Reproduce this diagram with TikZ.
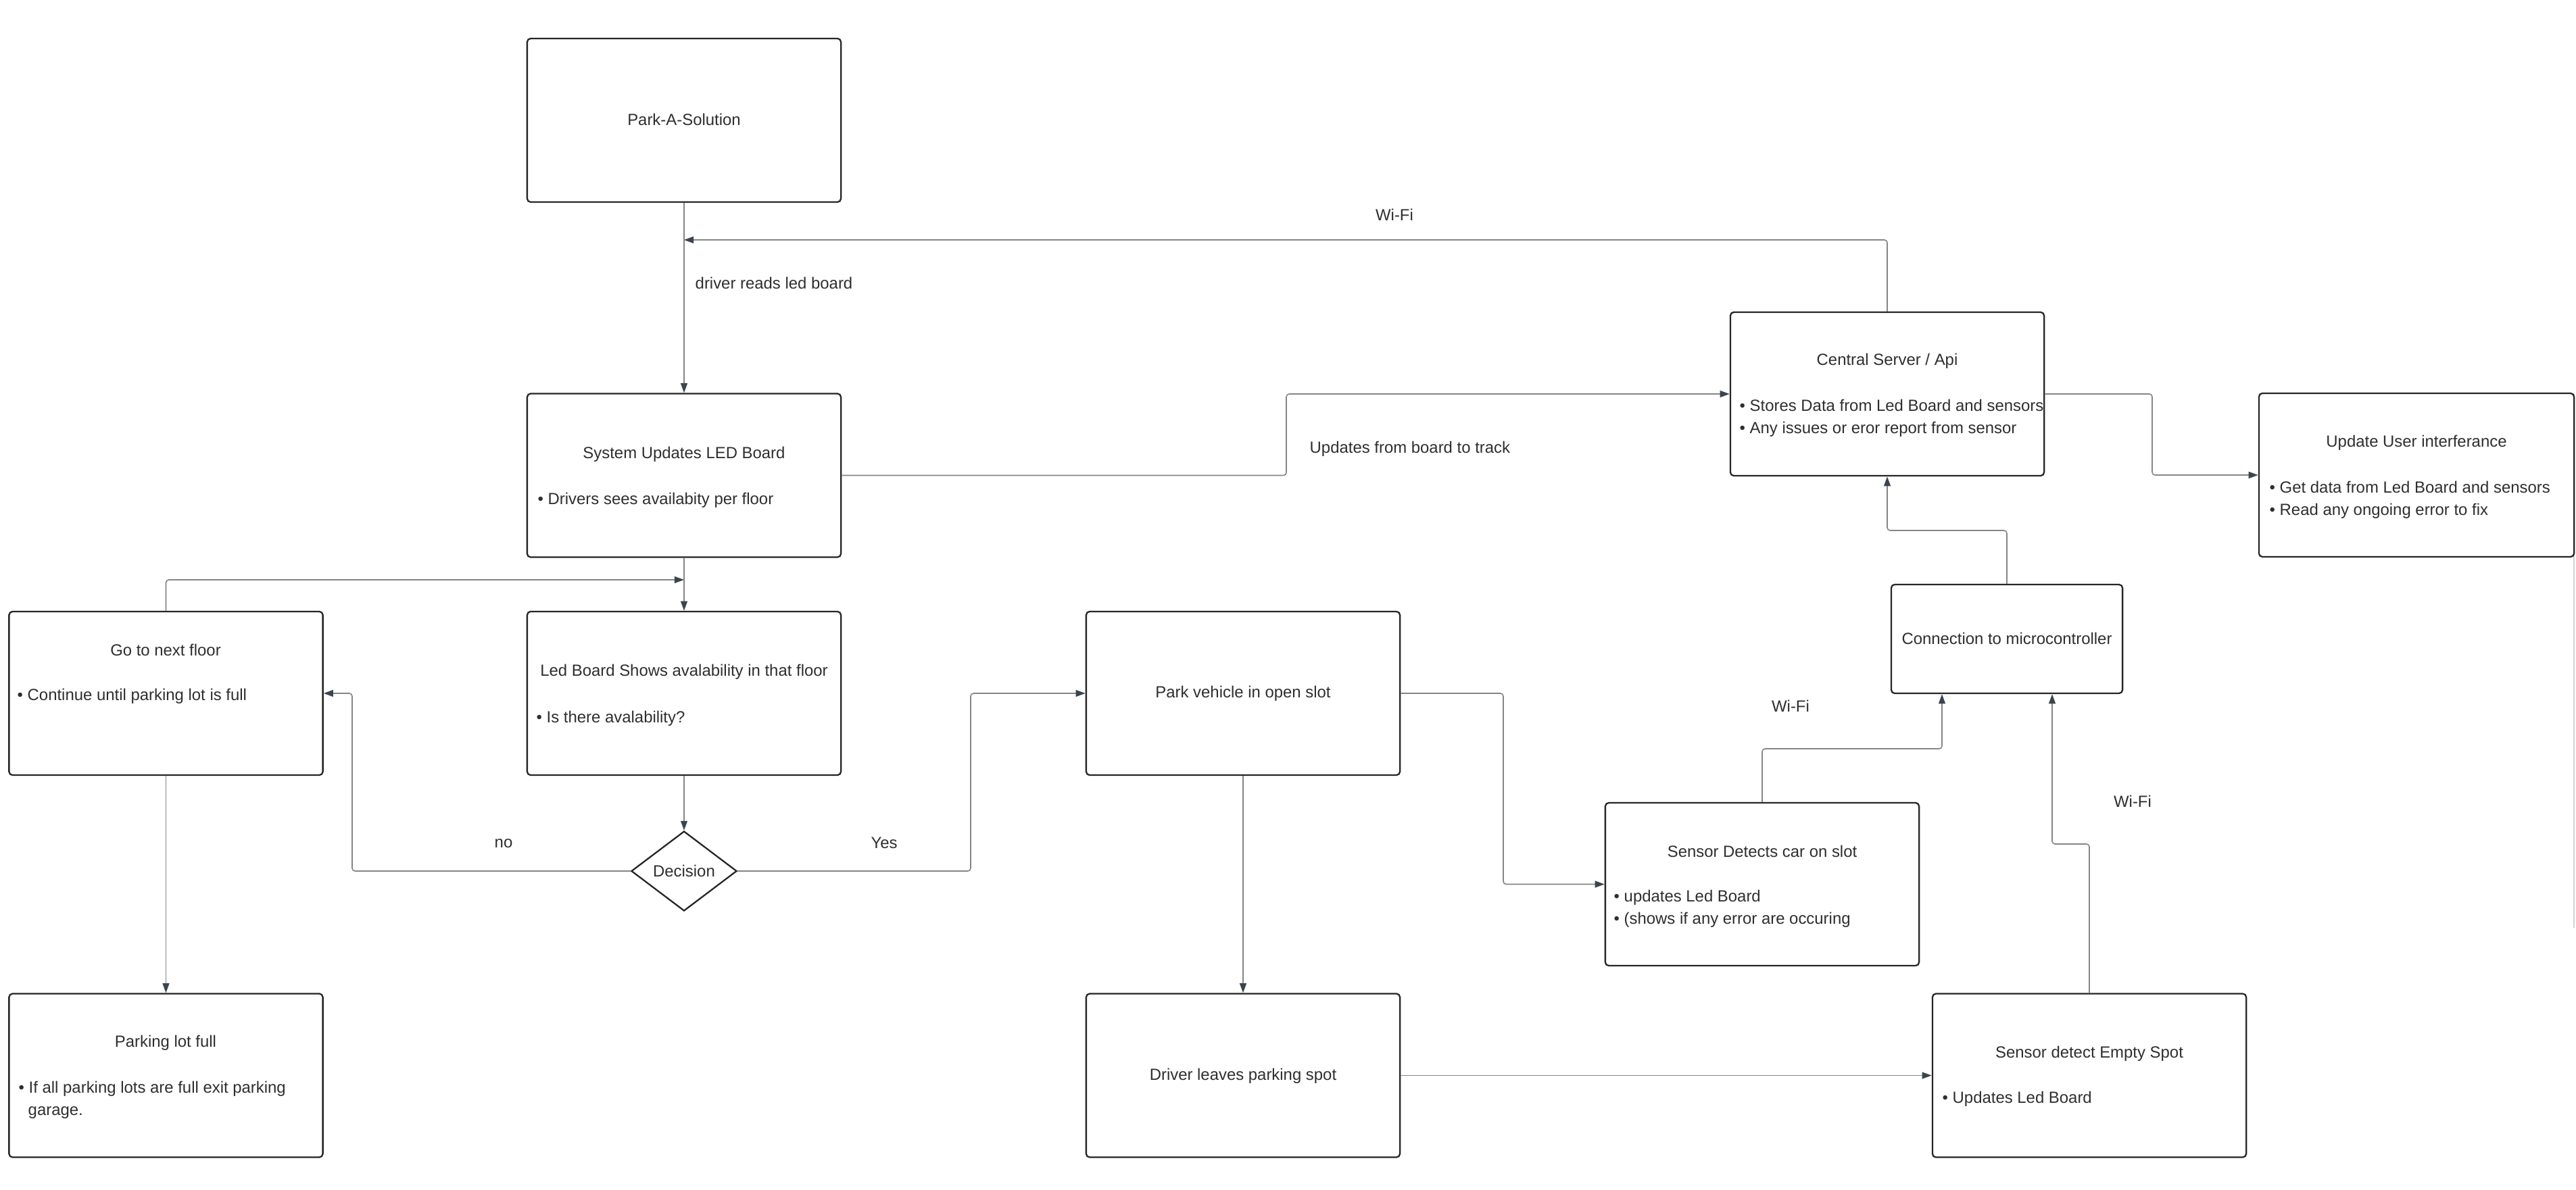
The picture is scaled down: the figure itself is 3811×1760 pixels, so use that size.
\documentclass[tikz,border=0pt]{standalone}
\usepackage{fontspec}
\setmainfont{Liberation Sans}
\usetikzlibrary{arrows.meta,shapes.geometric}
\definecolor{boxc}{HTML}{262626}
\definecolor{linec}{HTML}{858585}
\definecolor{arrc}{HTML}{3B4450}
\definecolor{txtc}{HTML}{2E2E2E}
\begin{document}
\begin{tikzpicture}[x=0.01cm,y=-0.01cm,
  box/.style={draw=boxc, line width=0.65pt, rounded corners=1.5pt, fill=white, inner sep=0pt, minimum width=4.64cm, minimum height=2.42cm},
  conn/.style={draw=linec, line width=0.45pt, rounded corners=1.2pt, -{Triangle[length=4pt,width=2.8pt,color=arrc]}},
  txt/.style={font=\fontsize{6.8}{8.2}\selectfont, text=txtc, inner sep=0pt},
  bul/.style={txt, anchor=mid west}]
\useasboundingbox[fill=white] (0,0) rectangle (3811,1760);
% scrollbar edge
\draw[draw=black!18, line width=0.6pt] (3808,583) -- (3808,1373);

% boxes
\node[box] (park) at (1012,178) {};
\node[box] (sys) at (1012,703.5) {};
\node[box] (next) at (245.5,1026) {};
\node[box] (led) at (1012,1026) {};
\node[box] (full) at (245.5,1591.5) {};
\node[box] (pv) at (1839,1026) {};
\node[box] (drv) at (1839,1591.5) {};
\node[box, minimum height=2.41cm] (sensc) at (2607,1308.5) {};
\node[box] (sense) at (3091,1591.5) {};
\node[box, minimum width=3.42cm, minimum height=1.61cm] (conn) at (2969,945.5) {};
\node[box] (srv) at (2792,583) {};
\node[box, minimum width=4.66cm] (ui) at (3575,703) {};
\node[diamond, draw=boxc, line width=0.65pt, fill=white, inner sep=0pt, aspect=1.32,
      minimum width=1.56cm, minimum height=1.18cm, txt] (dec) at (1012,1289) {Decision};

% texts
\node[txt] (t1) at (1012,177) {Park-A-Solution};
\node[txt] (t2) at (1012,672) {System Updates LED Board};
\node[bul] (t2a) at (795,737) {• Drivers sees availabity per floor};
\node[txt] (t3) at (245,962) {Go to next floor};
\node[bul] (t3a) at (25,1027) {• Continue until parking lot is full};
\node[txt] (t4) at (1012,994) {Led Board Shows avalability in that floor};
\node[bul] (t4a) at (793,1060) {• Is there avalability?};
\node[txt] (t5) at (245,1543) {Parking lot full};
\node[bul] (t5a) at (27,1608) {• If all parking lots are full exit parking};
\node[bul] (t5b) at (41,1641) {garage.};
\node[txt] (t6) at (1839,1026) {Park vehicle in open slot};
\node[txt] (t7) at (1839,1592) {Driver leaves parking spot};
\node[txt] (t8) at (2607,1260) {Sensor Detects car on slot};
\node[bul] (t8a) at (2387,1325) {• updates Led Board};
\node[bul] (t8b) at (2387,1358) {• (shows if any error are occuring};
\node[txt] (t9) at (3091,1559) {Sensor detect Empty Spot};
\node[bul] (t9a) at (2873,1623) {• Updates Led Board};
\node[txt] (t10) at (2969,945) {Connection to microcontroller};
\node[txt] (t11) at (2792,534) {Central Server / Api};
\node[bul] (t11a) at (2573,599) {• Stores Data from Led Board and sensors};
\node[bul] (t11b) at (2573,632) {• Any issues or eror report from sensor};
\node[txt] (t12) at (3575,655) {Update User interferance};
\node[bul] (t12a) at (3357,720) {• Get data from Led Board and sensors};
\node[bul] (t12b) at (3357,753) {• Read any ongoing error to fix};

% connector labels
\node[txt, anchor=mid west] (l1) at (1028,418) {driver reads led board};
\node[txt] (l2) at (2063,318) {Wi-Fi};
\node[txt, anchor=mid west] (l3) at (1937,661) {Updates from board to track};
\node[txt] (l4) at (745,1248) {no};
\node[txt] (l5) at (1308,1247) {Yes};
\node[txt] (l6) at (2649,1045) {Wi-Fi};
\node[txt] (l7) at (3155,1186) {Wi-Fi};

% free ends
\coordinate (wifiend) at (1012,355);
\coordinate (loopend) at (1012,858);

% connectors
\draw[conn] (park.south) -- (sys.north);
\draw[conn] (srv.north) -- (2792,355) -- (wifiend);
\draw[conn] (sys.east) -- (1903,703.5) -- (1903,583) -- (srv.west);
\draw[conn] (sys.south) -- (led.north);
\draw[conn] (next.north) -- (245.5,858) -- (loopend);
\draw[conn] (led.south) -- (dec.north);
\draw[conn] (dec.west) -- (521,1289) -- (521,1026) -- (next.east);
\draw[conn] (dec.east) -- (1436,1289) -- (1436,1026) -- (pv.west);
\draw[conn] (pv.east) -- (2224,1026) -- (2224,1308.5) -- (sensc.west);
\draw[conn] (pv.south) -- (drv.north);
\draw[conn] (next.south) -- (full.north);
\draw[conn] (drv.east) -- (sense.west);
\draw[conn] (sensc.north) -- (2607,1108) -- (2873,1108) -- (conn.south -| 2873,0);
\draw[conn] (sense.north) -- (3091,1249) -- (3036,1249) -- (conn.south -| 3036,0);
\draw[conn] (conn.north) -- (2969,785) -- (2792,785) -- (srv.south);
\draw[conn] (srv.east) -- (3184,583) -- (3184,703) -- (ui.west);
\end{tikzpicture}
\end{document}
